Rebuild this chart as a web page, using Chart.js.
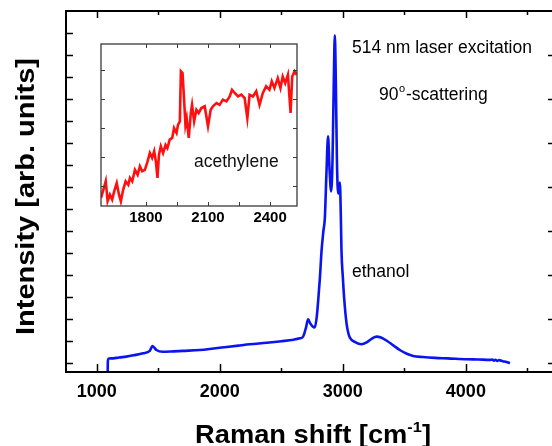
<!DOCTYPE html>
<html>
<head>
<meta charset="utf-8">
<script src="https://cdn.jsdelivr.net/npm/chart.js@4"></script>
<style>
  html, body { margin: 0; padding: 0; background: #fff; }
  #wrap { position: relative; width: 552px; height: 446px; overflow: hidden; background: #fff; }
  #main { position: absolute; left: 0; top: 0; }
  #inset { position: absolute; left: 95px; top: 38px; }
</style>
</head>
<body>
<div id="wrap">
  <canvas id="main" width="552" height="446"></canvas>
  <canvas id="inset" width="210" height="192"></canvas>
</div>
<script>
// Ethanol Raman spectrum, 514 nm excitation (arbitrary units)
const ramanShift = [1089, 1090, 1094, 1100, 1133, 1180, 1241, 1300, 1376, 1431, 1453, 1470, 1485, 1537,
  1600, 1700, 1837, 1950, 2057, 2150, 2244, 2382, 2500, 2600, 2650, 2677, 2700, 2718, 2735, 2755,
  2772, 2788, 2800, 2814, 2827, 2842, 2854, 2866, 2880, 2892, 2905, 2916, 2926, 2935, 2943, 2952,
  2962, 2976, 2984, 2989, 3000, 3010, 3030, 3045, 3057, 3100, 3152, 3200, 3240, 3274, 3310, 3360,
  3410, 3463, 3520, 3572, 3650, 3750, 3850, 4006, 4100, 4195, 4215, 4228, 4240, 4255, 4270, 4300,
  4330, 4358];
const intensity = [-0.4, 0.05, 0.18, 0.2, 0.21, 0.25, 0.29, 0.35, 0.44, 0.55, 0.77, 0.68, 0.59, 0.51,
  0.52, 0.55, 0.59, 0.66, 0.73, 0.79, 0.85, 0.92, 0.99, 1.06, 1.12, 1.2, 1.6, 1.98, 1.8, 1.66,
  1.62, 2.1, 2.86, 3.9, 5.1, 6.0, 6.6, 8.5, 10.3, 8.8, 7.8, 9.2, 12.6, 14.9, 12.8, 9.2,
  7.7, 8.2, 6.6, 5.1, 3.9, 3.0, 1.8, 1.35, 1.15, 0.95, 0.85, 0.96, 1.12, 1.2, 1.16, 1.0,
  0.8, 0.59, 0.42, 0.32, 0.27, 0.23, 0.21, 0.17, 0.16, 0.14, 0.16, 0.1, 0.15, 0.09, 0.13, 0.08,
  0.05, -0.01];

// Acetylene band region (inset)
const insetShift = [1583, 1594, 1606, 1615, 1626, 1637, 1647, 1659, 1670, 1679, 1690, 1702, 1715, 1723,
  1734, 1747, 1760, 1771, 1782, 1795, 1808, 1819, 1830, 1840, 1848, 1856, 1863, 1872, 1883, 1895,
  1904, 1915, 1927, 1936, 1948, 1955, 1964, 1969, 1977, 1984, 1991, 1997, 2007, 2017, 2023, 2033,
  2044, 2055, 2068, 2084, 2100, 2113, 2124, 2141, 2156, 2172, 2189, 2205, 2216, 2229, 2245, 2261,
  2277, 2290, 2301, 2317, 2333, 2349, 2365, 2381, 2397, 2408, 2421, 2437, 2450, 2461, 2473, 2486,
  2499, 2507, 2518, 2528];
const insetIntensity = [0.59, 0.86, 1.17, 0.48, 0.70, 0.53, 0.82, 1.10, 0.70, 0.47, 0.87, 1.16, 1.04, 1.28,
  1.16, 1.56, 1.39, 1.68, 1.51, 1.56, 1.85, 2.14, 1.97, 2.20, 1.85, 1.28, 2.08, 2.37, 2.14, 2.42,
  2.31, 2.60, 2.66, 3.00, 2.83, 3.11, 3.23, 4.96, 4.90, 4.03, 3.11, 3.34, 2.66, 3.52, 3.80, 3.23,
  3.63, 3.52, 3.69, 3.75, 3.06, 3.63, 3.75, 3.86, 3.80, 3.98, 3.92, 4.09, 4.32, 4.21, 4.09, 4.15,
  4.03, 3.34, 4.15, 4.09, 4.27, 3.80, 4.21, 4.44, 4.32, 4.61, 4.38, 4.72, 4.38, 4.78, 4.55, 4.84,
  3.52, 4.78, 4.96, 4.84];

// Tick positions
const mainXLabels = [1000, 2000, 3000, 4000];
const mainXMinor = [1500, 2500, 3500, 4500];
const mainYTicks = [0, 1, 2, 3, 4, 5, 6, 7, 8, 9, 10, 11, 12, 13, 14, 15];
const mainYRightTicks = [0, 2, 4, 6, 8, 10, 12, 14];
const insetXLabels = [1800, 2100, 2400];
const insetXMinor = [1950, 2250];
const insetYTicks = [1, 2, 3, 4, 5];

const FONT = '"Liberation Sans", Arial, Helvetica, sans-serif';

function toPoints(xs, ys) {
  return xs.map((x, i) => ({ x: x, y: ys[i] }));
}

function line(ctx, x1, y1, x2, y2) {
  ctx.beginPath();
  ctx.moveTo(x1, y1);
  ctx.lineTo(x2, y2);
  ctx.stroke();
}

// Text squeezed or stretched horizontally to a given width
function fitText(ctx, pieces, left, baseline, width) {
  let natural = 0;
  pieces.forEach(p => { ctx.font = p.font; natural += ctx.measureText(p.text).width; });
  ctx.save();
  ctx.translate(left, baseline);
  ctx.scale(width / natural, 1);
  let x = 0;
  ctx.textAlign = 'left';
  ctx.textBaseline = 'alphabetic';
  pieces.forEach(p => {
    ctx.font = p.font;
    ctx.fillText(p.text, x, p.dy || 0);
    x += ctx.measureText(p.text).width;
  });
  ctx.restore();
}

const mainFrame = {
  id: 'mainFrame',
  afterDraw(chart) {
    const ctx = chart.ctx;
    const a = chart.chartArea;
    const xs = chart.scales.x, ys = chart.scales.y;
    ctx.save();
    ctx.strokeStyle = '#000';
    ctx.fillStyle = '#000';

    // frame
    ctx.lineWidth = 2;
    line(ctx, a.left, a.top, a.left, a.bottom + 1);
    line(ctx, a.left - 1, a.bottom, a.right + 2, a.bottom);
    line(ctx, a.left - 1, a.top, a.right + 2, a.top);

    // x ticks, pointing inward on bottom and top
    ctx.lineWidth = 1.5;
    mainXLabels.forEach(v => {
      const px = Math.round(xs.getPixelForValue(v)) + 0.5;
      line(ctx, px, a.bottom, px, a.bottom - 8);
      line(ctx, px, a.top, px, a.top + 7);
    });
    mainXMinor.forEach(v => {
      const px = Math.round(xs.getPixelForValue(v)) + 0.5;
      line(ctx, px, a.bottom, px, a.bottom - 4);
      line(ctx, px, a.top, px, a.top + 4);
    });
    // y ticks
    mainYTicks.forEach(v => {
      const py = Math.round(ys.getPixelForValue(v)) + 0.5;
      line(ctx, a.left, py, a.left + 7, py);
    });
    mainYRightTicks.forEach(v => {
      const py = Math.round(ys.getPixelForValue(v)) + 0.5;
      line(ctx, a.right, py, a.right - 4, py);
    });

    // tick labels
    ctx.font = 'bold 18px ' + FONT;
    ctx.textAlign = 'center';
    ctx.textBaseline = 'alphabetic';
    mainXLabels.forEach(v => {
      ctx.fillText(String(v), xs.getPixelForValue(v), 397);
    });

    // axis titles
    fitText(ctx, [
      { text: 'Raman shift [cm', font: 'bold 25px ' + FONT },
      { text: '-1', font: 'bold 15px ' + FONT, dy: -11 },
      { text: ']', font: 'bold 25px ' + FONT }
    ], 195, 443, 236);

    ctx.save();
    ctx.translate(34, 335);
    ctx.rotate(-Math.PI / 2);
    fitText(ctx, [{ text: 'Intensity [arb. units]', font: 'bold 25px ' + FONT }], 0, 0, 277);
    ctx.restore();

    // annotations
    ctx.font = '17.5px ' + FONT;
    ctx.textAlign = 'left';
    ctx.fillText('514 nm laser excitation', 352, 53);
    ctx.fillText('90', 379, 100);
    ctx.font = '11px ' + FONT;
    ctx.fillText('o', 399, 92);
    ctx.font = '17.5px ' + FONT;
    ctx.fillText('-scattering', 406, 100);
    ctx.fillText('ethanol', 352, 277);
    ctx.restore();
  }
};

const insetFrame = {
  id: 'insetFrame',
  beforeDatasetsDraw(chart) {
    const ctx = chart.ctx;
    const a = chart.chartArea;
    ctx.save();
    ctx.fillStyle = '#fff';
    ctx.fillRect(a.left, a.top, a.right - a.left, a.bottom - a.top);
    ctx.restore();
  },
  afterDraw(chart) {
    const ctx = chart.ctx;
    const a = chart.chartArea;
    const xs = chart.scales.x, ys = chart.scales.y;
    ctx.save();
    ctx.strokeStyle = '#3a3a3a';
    ctx.fillStyle = '#000';
    ctx.lineWidth = 1.3;
    ctx.strokeRect(a.left, a.top, a.right - a.left, a.bottom - a.top);

    ctx.lineWidth = 1;
    insetXLabels.concat(insetXMinor).forEach(v => {
      const px = Math.round(xs.getPixelForValue(v)) + 0.5;
      line(ctx, px, a.bottom, px, a.bottom - 4);
      line(ctx, px, a.top, px, a.top + 4);
    });
    insetYTicks.forEach(v => {
      const py = Math.round(ys.getPixelForValue(v)) + 0.5;
      line(ctx, a.left, py, a.left + 4, py);
      line(ctx, a.right, py, a.right - 4, py);
    });

    ctx.font = 'bold 15px ' + FONT;
    ctx.textAlign = 'center';
    ctx.textBaseline = 'alphabetic';
    insetXLabels.forEach(v => {
      ctx.fillText(String(v), xs.getPixelForValue(v), a.bottom + 16);
    });

    ctx.font = '17.5px ' + FONT;
    ctx.textAlign = 'left';
    ctx.fillStyle = '#111';
    ctx.fillText('acethylene', 194 - 95, 167 - 38);
    ctx.restore();
  }
};

const common = {
  responsive: false,
  animation: false,
  devicePixelRatio: 1,
  events: [],
  plugins: { legend: { display: false }, tooltip: { enabled: false } }
};

new Chart(document.getElementById('main'), {
  type: 'line',
  data: {
    datasets: [{
      data: toPoints(ramanShift, intensity),
      borderColor: '#0a14f0',
      borderWidth: 2.6,
      pointRadius: 0,
      cubicInterpolationMode: 'monotone',
      fill: false
    }]
  },
  options: Object.assign({}, common, {
    layout: { padding: { left: 66, top: 11, right: 0, bottom: 74 } },
    scales: {
      x: { type: 'linear', min: 750, max: 4700, display: false },
      y: { type: 'linear', min: -0.41, max: 16, display: false }
    }
  }),
  plugins: [mainFrame]
});

new Chart(document.getElementById('inset'), {
  type: 'line',
  data: {
    datasets: [{
      data: toPoints(insetShift, insetIntensity),
      borderColor: '#ff1010',
      borderWidth: 2.6,
      pointRadius: 0,
      tension: 0,
      fill: false
    }]
  },
  options: Object.assign({}, common, {
    layout: { padding: { left: 6, top: 6, right: 8, bottom: 24 } },
    scales: {
      x: { type: 'linear', min: 1583, max: 2530, display: false },
      y: { type: 'linear', min: 0.31, max: 5.9, display: false }
    }
  }),
  plugins: [insetFrame]
});
</script>
</body>
</html>
